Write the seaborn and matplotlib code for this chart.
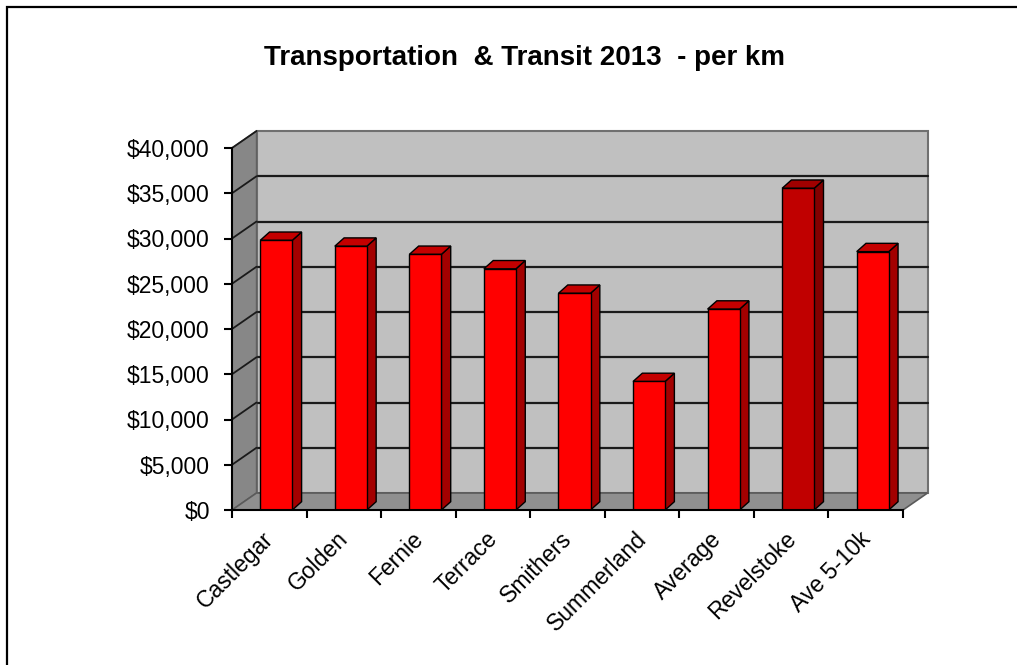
import seaborn as sns
import matplotlib.pyplot as plt
import matplotlib.patches as mpatches
import matplotlib.transforms as mtransforms
from matplotlib.ticker import FixedLocator, FuncFormatter
import pandas as pd

towns = ['Castlegar', 'Golden', 'Fernie', 'Terrace', 'Smithers',
         'Summerland', 'Average', 'Revelstoke', 'Ave 5-10k']
cost_per_km = [29800, 29150, 28250, 26650, 23950, 14200, 22200, 35550, 28550]
highlight = 'Revelstoke'
y_ticks = list(range(0, 40001, 5000))

df = pd.DataFrame({'town': towns, 'cost': cost_per_km})

sns.set_theme(style="white")
plt.rcParams['font.family'] = ['Liberation Sans', 'DejaVu Sans']

W, H = 1017, 665
fig = plt.figure(figsize=(W / 100, H / 100), dpi=100)

# axes placed so the front plane maps to the reference pixels
px_left, px_right, px_top, px_bottom = 232, 935, 125, 510
ax = fig.add_axes([px_left / W, 1 - px_bottom / H,
                   (px_right - px_left) / W, (px_bottom - px_top) / H])
px_per_cat = (903 - 232) / len(towns)
px_per_val = (510 - 148) / 40000

# depth offsets of the 3D box and of the bars
dx, dy = 24.5 / px_per_cat, 17 / px_per_val
bdx, bdy = 9.3 / px_per_cat, 8.3 / px_per_val
shift = 7 / px_per_cat

x0, x1 = -0.5, len(towns) - 0.5
top = y_ticks[-1]

sns.barplot(data=df, x='town', y='cost', ax=ax, width=0.43,
            color='#ff0000', edgecolor='black', linewidth=1, zorder=2)
bars = [p for p in ax.patches if isinstance(p, mpatches.Rectangle)]
ax.set_xlim(-0.5, -0.5 + (px_right - px_left) / px_per_cat)
ax.set_ylim(0, (px_bottom - px_top) / px_per_val)

# back wall, left wall and floor
ax.add_patch(mpatches.Polygon([(x0 + dx, dy), (x1 + dx, dy), (x1 + dx, top + dy), (x0 + dx, top + dy)],
                              closed=True, fc='#c0c0c0', ec='#707070', lw=1.5, zorder=0))
ax.add_patch(mpatches.Polygon([(x0, 0), (x0 + dx, dy), (x0 + dx, top + dy), (x0, top)],
                              closed=True, fc='#878787', ec='#606060', lw=1, zorder=0.5))
ax.add_patch(mpatches.Polygon([(x0, 0), (x1, 0), (x1 + dx, dy), (x0 + dx, dy)],
                              closed=True, fc='#8f8f8f', ec='#5a5a5a', lw=1.2, zorder=0.6))
for v in y_ticks[1:-1]:
    ax.plot([x0 + dx, x1 + dx], [v + dy, v + dy], color='#1a1a1a', lw=1.6, zorder=0.2)
for v in y_ticks[1:]:
    ax.plot([x0, x0 + dx], [v, v + dy], color='#1a1a1a', lw=1.3, zorder=0.7)

for p, town in zip(bars, towns):
    p.set_x(p.get_x() + shift)
    front, side, cap = '#ff0000', '#a30000', '#c40000'
    if town == highlight:
        front, side, cap = '#c00000', '#820000', '#a00000'
    p.set_facecolor(front)
    bx0, bx1, bh = p.get_x(), p.get_x() + p.get_width(), p.get_height()
    ax.add_patch(mpatches.Polygon([(bx1, 0), (bx1, bh), (bx1 + bdx, bh + bdy), (bx1 + bdx, bdy)],
                                  closed=True, fc=side, ec='black', lw=1, zorder=1.9))
    ax.add_patch(mpatches.Polygon([(bx0, bh), (bx1, bh), (bx1 + bdx, bh + bdy), (bx0 + bdx, bh + bdy)],
                                  closed=True, fc=cap, ec='black', lw=1, zorder=1.9))

# front axes
for s in ['top', 'right']:
    ax.spines[s].set_visible(False)
ax.spines['left'].set_position(('data', x0))
ax.spines['left'].set_bounds(0, top)
ax.spines['bottom'].set_bounds(x0, x1)
for s in ['left', 'bottom']:
    ax.spines[s].set_color('black')
    ax.spines[s].set_linewidth(1.5)
    ax.spines[s].set_zorder(3)

ax.yaxis.set_major_locator(FixedLocator(y_ticks))
ax.yaxis.set_major_formatter(FuncFormatter(lambda v, pos: f'${v:,.0f}'))
ax.tick_params(axis='y', direction='out', length=6, width=1.5, color='black',
               labelsize=16.5, labelcolor='black', pad=10, left=True)

ax.xaxis.set_major_locator(FixedLocator([i - 0.5 for i in range(len(towns) + 1)]))
ax.xaxis.set_major_formatter(FuncFormatter(lambda v, pos: ''))
ax.set_xticks(range(len(towns)), towns, minor=True)
ax.tick_params(axis='x', which='major', direction='out', length=6, width=1.5,
               color='black', bottom=True)
ax.tick_params(axis='x', which='minor', length=0, labelsize=16.5, labelcolor='black', pad=11)
nudge = mtransforms.ScaledTranslation(-7 / 100, -2 / 100, fig.dpi_scale_trans)
for lbl in ax.get_xticklabels(minor=True):
    lbl.set_rotation(45)
    lbl.set_ha('right')
    lbl.set_rotation_mode('anchor')
    lbl.set_transform(lbl.get_transform() + nudge)

ax.set_xlabel('')
ax.set_ylabel('')
ax.set_facecolor('none')
ax.grid(False)

fig.text(525 / W, 1 - 58 / H, 'Transportation  & Transit 2013  - per km',
         ha='center', va='center', fontsize=20, fontweight='bold', color='black')

# chart border (only top and left visible in the frame)
fig.add_artist(mpatches.Rectangle((7 / W, -0.2), 1.2, 1 - 7 / H + 0.2,
                                  transform=fig.transFigure, fill=False,
                                  ec='black', lw=1.6))

fig.savefig('out.png', dpi=100)
